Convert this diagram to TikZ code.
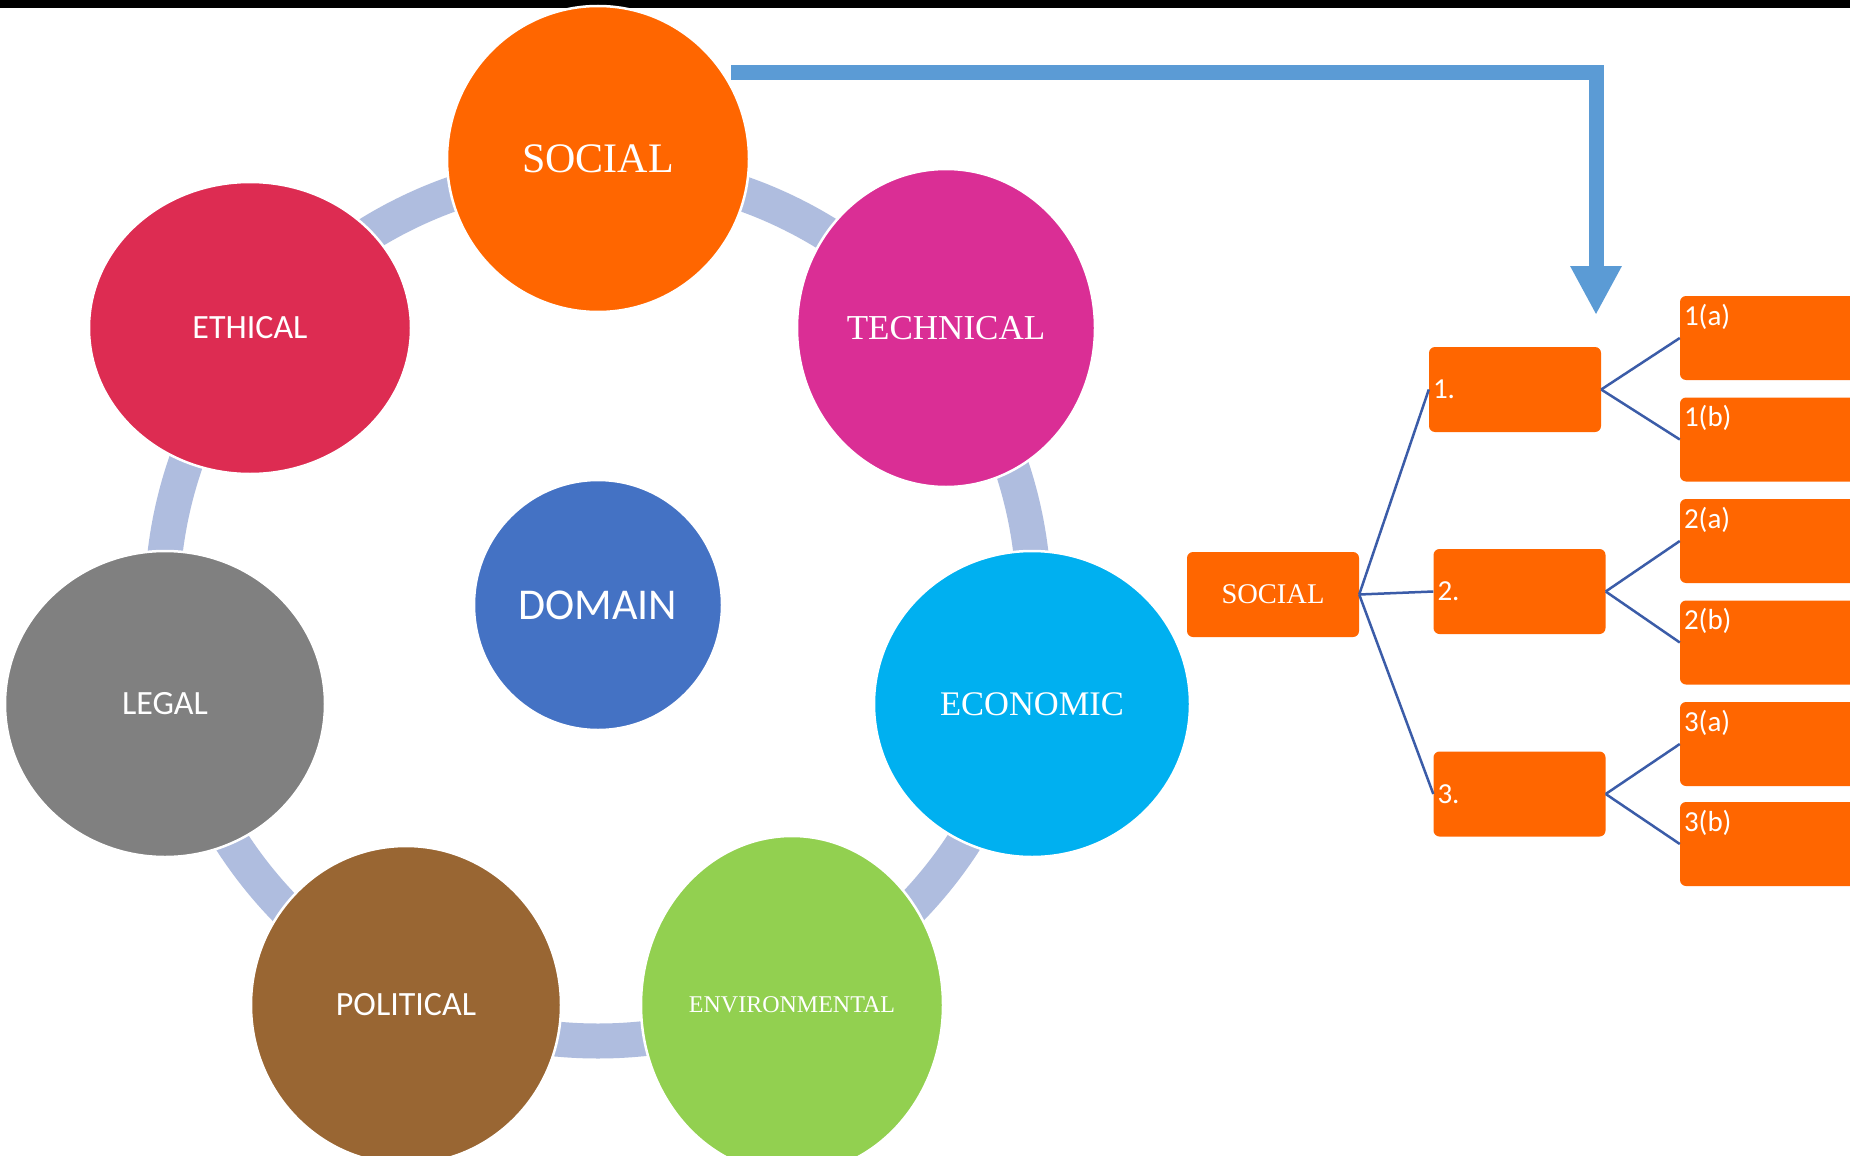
\documentclass[tikz,border=0pt]{standalone}
\usepackage{fontspec}
\setmainfont{Liberation Serif}
\setsansfont{Carlito}
\usetikzlibrary{shapes.geometric,arrows.meta}
\definecolor{orng}{HTML}{FF6600}
\definecolor{tech}{HTML}{DA2E95}
\definecolor{ethi}{HTML}{DD2C52}
\definecolor{econ}{HTML}{00B0F0}
\definecolor{envi}{HTML}{92D050}
\definecolor{poli}{HTML}{996633}
\definecolor{lega}{HTML}{808080}
\definecolor{doma}{HTML}{4472C4}
\definecolor{ring}{HTML}{AFBDDF}
\definecolor{arrc}{HTML}{5B9BD5}
\definecolor{linkc}{HTML}{3B5CA8}
\tikzset{
  circ/.style={ellipse, draw=white, line width=2.5pt, inner sep=0pt, text=white, align=center},
  serifL/.style={font=\fontsize{35}{40}\selectfont\rmfamily},
  sansL/.style={font=\fontsize{34}{40}\selectfont\sffamily},
  obox/.style={fill=orng, rounded corners=6pt, minimum width=172pt, minimum height=85pt, inner sep=0pt},
  cbox/.style={fill=orng, rounded corners=6pt, minimum width=200pt, minimum height=84pt, inner sep=0pt},
  boxtxt/.style={text=white, inner sep=0pt, font=\fontsize{29}{32}\selectfont\sffamily},
  link/.style={draw=linkc, line width=2.5pt},
}
\begin{document}
\begin{tikzpicture}[x=1pt,y=-1pt]
\useasboundingbox (0,0) rectangle (1850,1156);
\clip (0,0) rectangle (1850,1156);
\fill[white] (0,0) rectangle (1850,1156);
\fill[black] (0,0) rectangle (1850,8);
% ring
\draw[ring, line width=35pt] (598,605) circle[radius=436pt];
% circles
\node[circ, fill=orng, minimum width=302pt, minimum height=306pt, font=\fontsize{42}{46}\selectfont\rmfamily] (soc) at (598,159) {SOCIAL};
\node[circ, fill=tech, minimum width=298pt, minimum height=318pt, serifL] (tec) at (946,328) {TECHNICAL};
\node[circ, fill=econ, minimum width=316pt, minimum height=306pt, font=\fontsize{34.5}{40}\selectfont\rmfamily] (eco) at (1032,704) {ECONOMIC};
\node[circ, fill=envi, minimum width=302pt, minimum height=338pt, font=\fontsize{24}{28}\selectfont\rmfamily] (env) at (792,1005) {ENVIRONMENTAL};
\node[circ, fill=poli, minimum width=310pt, minimum height=318pt, sansL] (pol) at (406,1005) {POLITICAL};
\node[circ, fill=lega, minimum width=320pt, minimum height=306pt, sansL] (leg) at (165,704) {LEGAL};
\node[circ, fill=ethi, minimum width=322pt, minimum height=292pt, sansL] (eth) at (250,328) {ETHICAL};
\node[circ, fill=doma, minimum width=248pt, minimum height=250pt, font=\fontsize{44}{48}\selectfont\sffamily] (dom) at (598,605) {DOMAIN};
% elbow arrow
\coordinate (arrS) at (731,73);
\coordinate (arrE) at (1596,315);
\draw[arrc, line width=15pt, line join=miter, -{Triangle[width=48pt,length=49pt]}] (arrS) -| (arrE);
% tree
\node[obox, text=white, font=\fontsize{28.5}{32}\selectfont\rmfamily] (root) at (1273,594.5) {SOCIAL};
\node[obox] (b1) at (1515,389.5) {};
\node[obox] (b2) at (1519.5,591.5) {};
\node[obox] (b3) at (1519.5,794) {};
\node[boxtxt, anchor=west] (b1t) at ([xshift=4pt]b1.west) {1.};
\node[boxtxt, anchor=west] (b2t) at ([xshift=4pt]b2.west) {2.};
\node[boxtxt, anchor=west] (b3t) at ([xshift=4pt]b3.west) {3.};
\node[cbox] (c1a) at (1780,338) {};
\node[cbox] (c1b) at (1780,439.5) {};
\node[cbox] (c2a) at (1780,541) {};
\node[cbox] (c2b) at (1780,642.5) {};
\node[cbox] (c3a) at (1780,744) {};
\node[cbox] (c3b) at (1780,844) {};
\node[boxtxt, anchor=north west] (c1at) at ([xshift=4pt,yshift=-8pt]c1a.north west) {1(a)};
\node[boxtxt, anchor=north west] (c1bt) at ([xshift=4pt,yshift=-8pt]c1b.north west) {1(b)};
\node[boxtxt, anchor=north west] (c2at) at ([xshift=4pt,yshift=-8pt]c2a.north west) {2(a)};
\node[boxtxt, anchor=north west] (c2bt) at ([xshift=4pt,yshift=-8pt]c2b.north west) {2(b)};
\node[boxtxt, anchor=north west] (c3at) at ([xshift=4pt,yshift=-8pt]c3a.north west) {3(a)};
\node[boxtxt, anchor=north west] (c3bt) at ([xshift=4pt,yshift=-8pt]c3b.north west) {3(b)};
\draw[link] (root.east) -- (b1.west);
\draw[link] (root.east) -- (b2.west);
\draw[link] (root.east) -- (b3.west);
\draw[link] (b1.east) -- (c1a.west);
\draw[link] (b1.east) -- (c1b.west);
\draw[link] (b2.east) -- (c2a.west);
\draw[link] (b2.east) -- (c2b.west);
\draw[link] (b3.east) -- (c3a.west);
\draw[link] (b3.east) -- (c3b.west);
\end{tikzpicture}
\end{document}
